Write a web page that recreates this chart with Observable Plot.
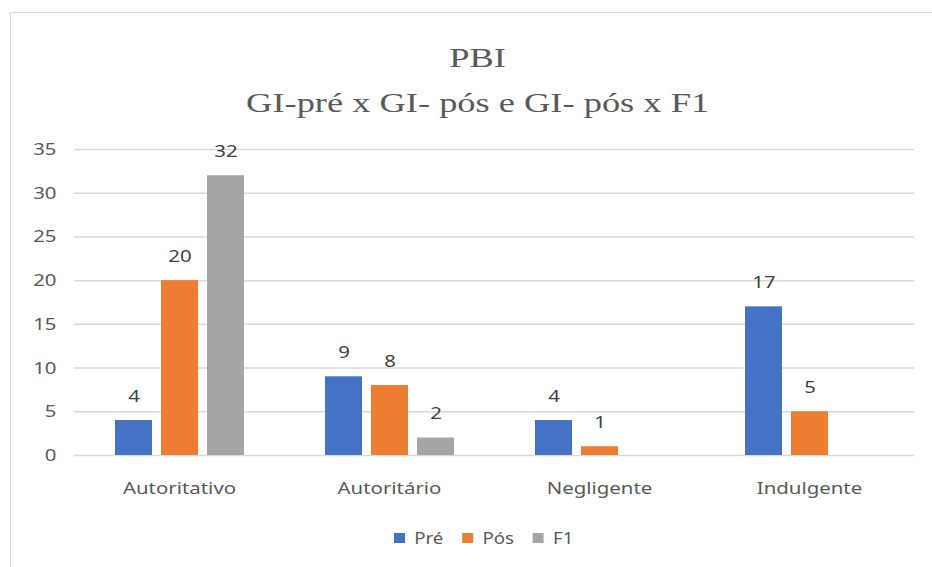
<!DOCTYPE html>
<html><head><meta charset="utf-8">
<script src="https://cdn.jsdelivr.net/npm/d3@7"></script>
<script src="https://cdn.jsdelivr.net/npm/@observablehq/plot@0.6"></script>
<style>
html,body{margin:0;padding:0;background:#fff;width:932px;height:567px;overflow:hidden;position:relative;}
#frame{position:absolute;left:10px;top:12px;width:940px;height:570px;border:1.5px solid #d9d9d9;box-sizing:border-box;}
.t{position:absolute;left:10px;width:940px;text-align:center;font-family:"Liberation Serif","Times New Roman",serif;color:#595959;font-size:28px;line-height:28px;transform:scaleX(1.3);transform-origin:478px 0;}
#plot{position:absolute;left:0;top:130px;}
#legend{position:absolute;left:10px;top:521px;width:966px;display:flex;justify-content:center;transform:scaleX(1.1);transform-origin:483px 0;}
</style></head>
<body>
<div id="frame"></div>
<div class="t" style="top:44px">PBI</div>
<div class="t" style="top:89px">GI-pré x GI- pós e GI- pós x F1</div>
<div id="plot"></div>
<div id="legend"></div>
<script>
const categories = ["Autoritativo", "Autoritário", "Negligente", "Indulgente"];
const seriesNames = ["Pré", "Pós", "F1"];
const pre = [4, 9, 4, 17];
const pos = [20, 8, 1, 5];
const f1 = [32, 2, null, null];
const colors = ["#4472C4", "#ED7D31", "#A5A5A5"];
const yTicks = [0, 5, 10, 15, 20, 25, 30, 35];

const seriesValues = [pre, pos, f1];
const data = [];
categories.forEach((c, i) => {
  seriesNames.forEach((s, j) => {
    const v = seriesValues[j][i];
    if (v != null) data.push({category: c, series: s, value: v});
  });
});

const font = "'Noto Sans', 'Open Sans', sans-serif";
const chart = Plot.plot({
  width: 932,
  height: 380,
  marginLeft: 73,
  marginRight: 17,
  marginTop: 19,
  marginBottom: 55,
  style: {fontFamily: font, fontSize: "17px", color: "#595959", background: "transparent"},
  fx: {domain: categories, padding: 0, label: null, axis: "bottom", tickSize: 0, tickPadding: 26},
  x: {domain: seriesNames, paddingInner: 0.204, paddingOuter: 0.866, axis: null},
  y: {domain: [0, 35], ticks: yTicks, label: null, tickSize: 0, tickPadding: 18},
  color: {domain: seriesNames, range: colors},
  marks: [
    Plot.gridY(yTicks, {stroke: "#d9d9d9", strokeOpacity: 1, strokeWidth: 1.5}),
    Plot.barY(data, {fx: "category", x: "series", y: "value", fill: "series"}),
    Plot.text(data, {fx: "category", x: "series", y: "value", text: d => String(d.value), dy: -24, fill: "#404040", fontSize: 17})
  ]
});
document.getElementById("plot").appendChild(chart);
// widen glyphs horizontally to match the reference's proportions
chart.querySelectorAll("text").forEach(t => {
  const len = t.getComputedTextLength();
  if (len > 0) {
    t.setAttribute("textLength", (len * 1.2).toFixed(2));
    t.setAttribute("lengthAdjust", "spacingAndGlyphs");
  }
});

const leg = Plot.legend({
  color: {domain: seriesNames, range: colors},
  swatchSize: 10,
  style: {fontFamily: font, fontSize: "17px", color: "#595959"}
});
document.getElementById("legend").appendChild(leg);
</script>
</body></html>
